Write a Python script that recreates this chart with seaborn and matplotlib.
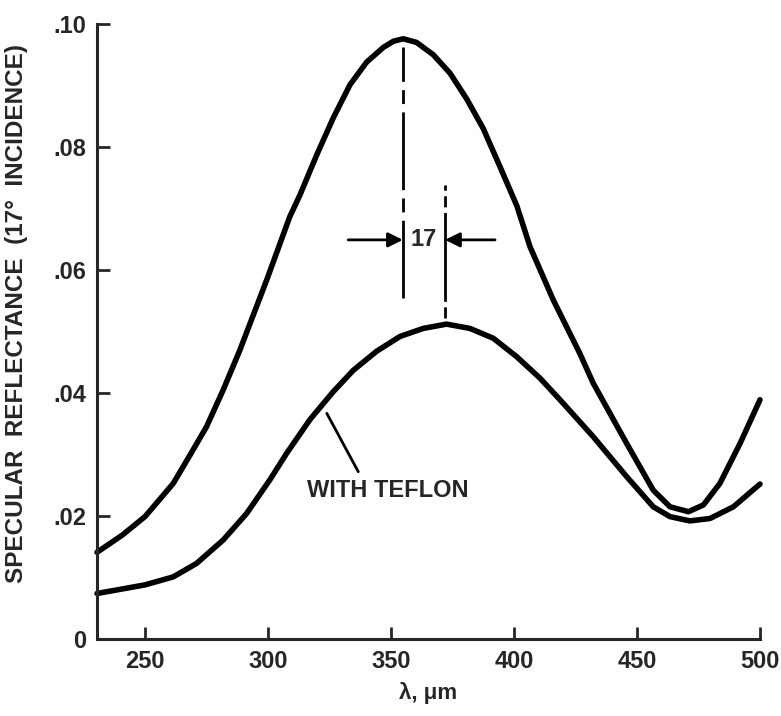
import matplotlib
matplotlib.use("Agg")
import matplotlib.pyplot as plt
import seaborn as sns

# wavelength (x) and specular reflectance for the bare sample
wl_bare = [230.5, 240.8, 250.0, 254.7, 261.5, 268.3, 275.0, 281.8, 288.6, 299.5,
           308.9, 313.0, 319.8, 326.5, 333.3, 340.1, 346.9, 351.0, 355.0, 360.4,
           367.2, 374.0, 380.8, 387.5, 394.3, 401.1, 406.5, 416.0, 426.8, 432.2,
           445.8, 456.6, 463.4, 470.9, 477.0, 483.7, 491.9, 500.0]
refl_bare = [0.0141, 0.0169, 0.0199, 0.0221, 0.0253, 0.0299, 0.0345, 0.0405, 0.0470, 0.0584,
             0.0687, 0.0722, 0.0787, 0.0847, 0.0901, 0.0938, 0.0962, 0.0972, 0.0976, 0.0970,
             0.0950, 0.0920, 0.0878, 0.0830, 0.0768, 0.0705, 0.0638, 0.0551, 0.0464, 0.0416,
             0.0318, 0.0242, 0.0215, 0.0207, 0.0218, 0.0253, 0.0318, 0.0389]

# with teflon
wl_teflon = [230.5, 250.0, 261.5, 271.0, 281.8, 291.3, 300.8, 307.6, 317.1, 326.5,
             334.7, 344.2, 353.7, 363.1, 372.6, 382.1, 391.6, 401.1, 410.6, 418.7,
             432.2, 445.8, 456.6, 463.4, 471.5, 479.7, 489.2, 500.0]
refl_teflon = [0.0074, 0.0088, 0.0101, 0.0123, 0.0161, 0.0204, 0.0259, 0.0302, 0.0357, 0.0402,
               0.0437, 0.0468, 0.0492, 0.0505, 0.0512, 0.0505, 0.0489, 0.0459, 0.0424, 0.0389,
               0.0329, 0.0264, 0.0215, 0.0199, 0.0192, 0.0196, 0.0215, 0.0252]

peak_bare = 354.8
peak_teflon = 372.0
shift_label = "17"

xticks = [250, 300, 350, 400, 450, 500]
yticks = [0, 0.02, 0.04, 0.06, 0.08, 0.10]
ytick_labels = ["0", ".02", ".04", ".06", ".08", ".10"]

sns.set_style("ticks")
plt.rcParams['font.family'] = ['Liberation Sans', 'DejaVu Sans']
plt.rcParams['font.weight'] = 'bold'

fig, ax = plt.subplots(figsize=(7.81, 7.16), dpi=100)
fig.subplots_adjust(left=97/781, right=760/781, bottom=1-639/716, top=1-24/716)

sns.lineplot(x=wl_bare, y=refl_bare, sort=False, color='black', lw=4, ax=ax,
             solid_capstyle='round', solid_joinstyle='round', clip_on=False)
sns.lineplot(x=wl_teflon, y=refl_teflon, sort=False, color='black', lw=4, ax=ax,
             solid_capstyle='round', solid_joinstyle='round', clip_on=False)

# peak markers
ax.plot([peak_bare, peak_bare], [0.0555, 0.0963], color='black', lw=2,
        linestyle=(0, (28, 3, 5, 3)))
ax.plot([peak_teflon, peak_teflon], [0.0522, 0.0738], color='black', lw=2,
        linestyle=(0, (4, 2, 32, 2)))
arrow_y = 0.0649
ax.annotate("", xy=(peak_bare, arrow_y), xytext=(332.6, arrow_y),
            arrowprops=dict(arrowstyle='-|>', color='black', lw=2, mutation_scale=22,
                            shrinkA=0, shrinkB=0))
ax.annotate("", xy=(peak_teflon, arrow_y), xytext=(392.3, arrow_y),
            arrowprops=dict(arrowstyle='-|>', color='black', lw=2, mutation_scale=22,
                            shrinkA=0, shrinkB=0))
ax.text((peak_bare + peak_teflon) / 2, arrow_y, shift_label, ha='center', va='center',
        fontsize=17, fontweight='bold')

# teflon label
ax.plot([323.9, 336.7], [0.0367, 0.0272], color='black', lw=2)
ax.text(348.8, 0.0241, "WITH TEFLON", ha='center', va='center', fontsize=17,
        fontweight='bold')

ax.set_xlim(230.5, 500)
ax.set_ylim(0, 0.10)
ax.set_xticks(xticks)
ax.set_yticks(yticks)
ax.set_yticklabels(ytick_labels)
ax.tick_params(direction='in', length=9, width=2, labelsize=17, pad=8)
for lab in ax.get_xticklabels() + ax.get_yticklabels():
    lab.set_fontweight('bold')

sns.despine(ax=ax)
for sp in ['left', 'bottom']:
    ax.spines[sp].set_linewidth(2.2)

ax.set_xlabel("λ, μm", fontsize=16, fontweight='bold')
ax.set_ylabel("SPECULAR  REFLECTANCE  (17°  INCIDENCE)", fontsize=17.5, fontweight='bold')
ax.yaxis.set_label_coords(-0.104, 0.530)
ax.xaxis.set_label_coords(0.5, -0.070)

plt.savefig("out.png", dpi=100)
